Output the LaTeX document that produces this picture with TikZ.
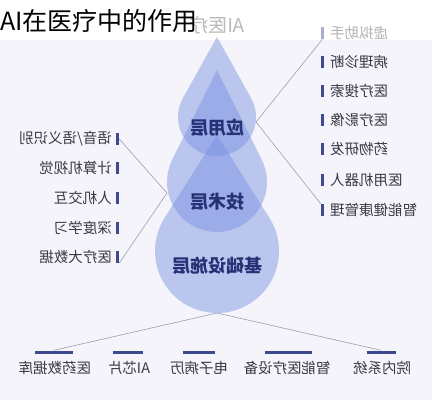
\documentclass[tikz,border=0pt]{standalone}
\usepackage{fontspec,graphicx}
\setmainfont{Noto Sans CJK SC}
\definecolor{dropblue}{RGB}{118,142,226}
\definecolor{labelnavy}{RGB}{38,50,118}
\definecolor{barnavy}{RGB}{62,74,140}
\definecolor{itemgray}{RGB}{58,58,68}
\definecolor{linegray}{RGB}{158,158,174}
\definecolor{bgpale}{RGB}{244,244,250}
\usetikzlibrary{positioning,calc}

\begin{document}
\begin{tikzpicture}[x=1pt,y=-1pt,
  drop/.style={fill=dropblue,fill opacity=0.45,draw=none},
  layer/.style={font=\fontsize{18}{20}\selectfont\bfseries,text=labelnavy,inner sep=0pt},
  item/.style={font=\fontsize{14.5}{16}\selectfont,text=itemgray,inner sep=0pt},
  vbar/.style={fill=barnavy,minimum width=3pt,minimum height=12pt,inner sep=0pt},
  hbar/.style={fill=barnavy,minimum height=3pt,inner sep=0pt},
  link/.style={linegray,line width=0.6pt}
]
  \useasboundingbox (0,0) rectangle (432,400);
  % Background
  \fill[white] (0,0) rectangle (432,40);
  \fill[bgpale] (0,40) rectangle (432,400);
  % Title
  \node[font=\fontsize{19}{21}\selectfont,text=gray!55,anchor=east,inner sep=0pt] (ghost) at (245,25) {\reflectbox{AI医疗}};
  \node[font=\fontsize{25}{28}\selectfont,anchor=west,inner sep=0pt] (title) at (0,21) {AI在医疗中的作用};
  % Drops
  \fill[drop] (217,135) -- ($(217,251)+({-asin(62/116)}:62)$) arc[start angle={-asin(62/116)},end angle={180+asin(62/116)},radius=62] -- cycle;
  \fill[drop] (217,70) -- ($(217,182)+({-asin(50/112)}:50)$) arc[start angle={-asin(50/112)},end angle={180+asin(50/112)},radius=50] -- cycle;
  \fill[drop] (217,37) -- ($(217,117)+({-asin(39/80)}:39)$) arc[start angle={-asin(39/80)},end angle={180+asin(39/80)},radius=39] -- cycle;
  % Layer labels
  \node[layer] (app) at (217,128) {\reflectbox{应用层}};
  \node[layer] (tech) at (217,202) {\reflectbox{技术层}};
  \node[layer] (base) at (217,266) {\reflectbox{基础设施层}};
  % Right list
  \node[vbar,fill=barnavy!45] (rb1) at (322.5,33) {};
  \node[vbar] (rb2) at (322.5,62) {};
  \node[vbar] (rb3) at (322.5,91) {};
  \node[vbar] (rb4) at (322.5,120) {};
  \node[vbar] (rb5) at (322.5,149) {};
  \node[vbar] (rb6) at (322.5,180) {};
  \node[vbar] (rb7) at (322.5,210) {};
  \node[item,anchor=west,text=gray!60] (r1) at (330,33) {\reflectbox{虚拟助手}};
  \node[item,anchor=west] (r2) at (330,62) {\reflectbox{病理诊断}};
  \node[item,anchor=west] (r3) at (330,91) {\reflectbox{医疗搜索}};
  \node[item,anchor=west] (r4) at (330,120) {\reflectbox{医疗影像}};
  \node[item,anchor=west] (r5) at (330,149) {\reflectbox{药物研发}};
  \node[item,anchor=west] (r6) at (330,180) {\reflectbox{医用机器人}};
  \node[item,anchor=west] (r7) at (330,210) {\reflectbox{智能健康管理}};
  % Left list
  \node[vbar] (lb1) at (117.5,139) {};
  \node[vbar] (lb2) at (117.5,168) {};
  \node[vbar] (lb3) at (117.5,198) {};
  \node[vbar] (lb4) at (117.5,228) {};
  \node[vbar] (lb5) at (117.5,257) {};
  \node[item,anchor=east] (l1) at (112,139) {\reflectbox{语音/语义识别}};
  \node[item,anchor=east] (l2) at (112,168) {\reflectbox{计算机视觉}};
  \node[item,anchor=east] (l3) at (112,198) {\reflectbox{人机交互}};
  \node[item,anchor=east] (l4) at (112,228) {\reflectbox{深度学习}};
  \node[item,anchor=east] (l5) at (112,257) {\reflectbox{医疗大数据}};
  % Bottom list
  \node[hbar,minimum width=38pt] (bb1) at (54,352) {};
  \node[hbar,minimum width=30pt] (bb2) at (128,352) {};
  \node[hbar,minimum width=32pt] (bb3) at (199,352) {};
  \node[hbar,minimum width=47pt] (bb4) at (288,352) {};
  \node[hbar,minimum width=29pt] (bb5) at (381,352) {};
  \node[item] (b1) at (55,368) {\reflectbox{医药数据库}};
  \node[item] (b2) at (129,368) {\reflectbox{AI芯片}};
  \node[item] (b3) at (199,368) {\reflectbox{电子病历}};
  \node[item] (b4) at (287,368) {\reflectbox{智能医疗设备}};
  \node[item] (b5) at (382,368) {\reflectbox{院内系统}};
  % Connectors
  \coordinate (apR) at (256,122);
  \coordinate (apL) at (167,193);
  \coordinate (apB) at (217,313);
  \draw[link] (rb1.south) -- (apR) -- (rb7.north west);
  \draw[link] (lb1.east) -- (apL) -- (lb5.south east);
  \draw[link] (bb1.north) -- (apB) -- (bb5.north);
\end{tikzpicture}
\end{document}
